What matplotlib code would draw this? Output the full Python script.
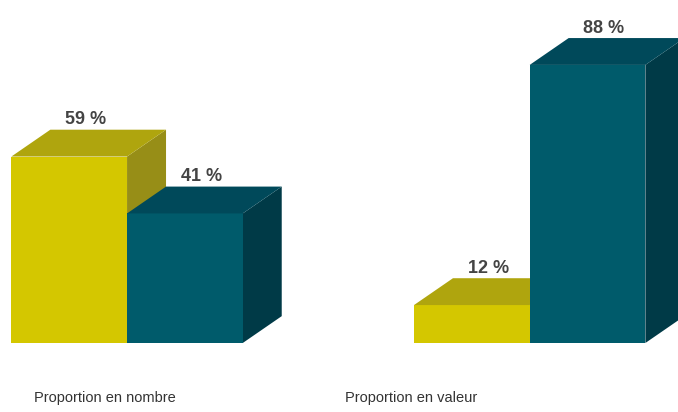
import matplotlib.pyplot as plt
from matplotlib.patches import Polygon

plt.rcParams['font.family'] = ['Liberation Sans', 'DejaVu Sans']

# données
groupes = ["Proportion en nombre", "Proportion en valeur"]
nombre = [59, 41]      # jaune, bleu
valeur = [12, 88]
series = [nombre, valeur]

# couleurs : face avant, dessus, côté
jaune = ["#D4C700", "#AFA50E", "#978E17"]
bleu = ["#005B6B", "#00495A", "#003A47"]
couleurs = [jaune, bleu]

centres = [0.0, 3.48]    # centre de chaque groupe
largeur = 1.0
dx, dy = 0.337, 8.5      # profondeur de l'effet 3D

fig = plt.figure(figsize=(6.78, 4.12), dpi=100)
ax = fig.add_axes([0, 69 / 412, 1, 316 / 412])
ax.set_xlim(-1.098, 4.762)
ax.set_ylim(0, 100)
ax.axis('off')

for c, vals in zip(centres, series):
    for i, v in enumerate(vals):
        x0 = c - largeur + i * largeur
        x1 = x0 + largeur
        front, top, side = couleurs[i]
        ax.bar(x0, v, width=largeur, align='edge', color=front, linewidth=0, zorder=2 + 3 * i)
        ax.add_patch(Polygon([(x0, v), (x1, v), (x1 + dx, v + dy), (x0 + dx, v + dy)],
                             closed=True, color=top, lw=0, zorder=3 + 3 * i, clip_on=False))
        ax.add_patch(Polygon([(x1, 0), (x1 + dx, dy), (x1 + dx, v + dy), (x1, v)],
                             closed=True, color=side, lw=0, zorder=1 + 3 * i, clip_on=False))
        ax.annotate(f"{v} %", ((x0 + x1) / 2 + dx * 0.42, v + dy), xytext=(0, 4),
                    textcoords='offset points', ha='center', va='baseline',
                    fontsize=13, fontweight='bold', color='#444444', zorder=10,
                    annotation_clip=False)

# étiquettes des groupes
label_x = [-0.19, 2.455]
for x, nom in zip(label_x, groupes):
    ax.annotate(nom, (x, 0), xytext=(0, -55), textcoords='offset pixels',
                ha='center', va='center', fontsize=10.5, color='#333333',
                annotation_clip=False)

fig.savefig("out.png", dpi=100)
